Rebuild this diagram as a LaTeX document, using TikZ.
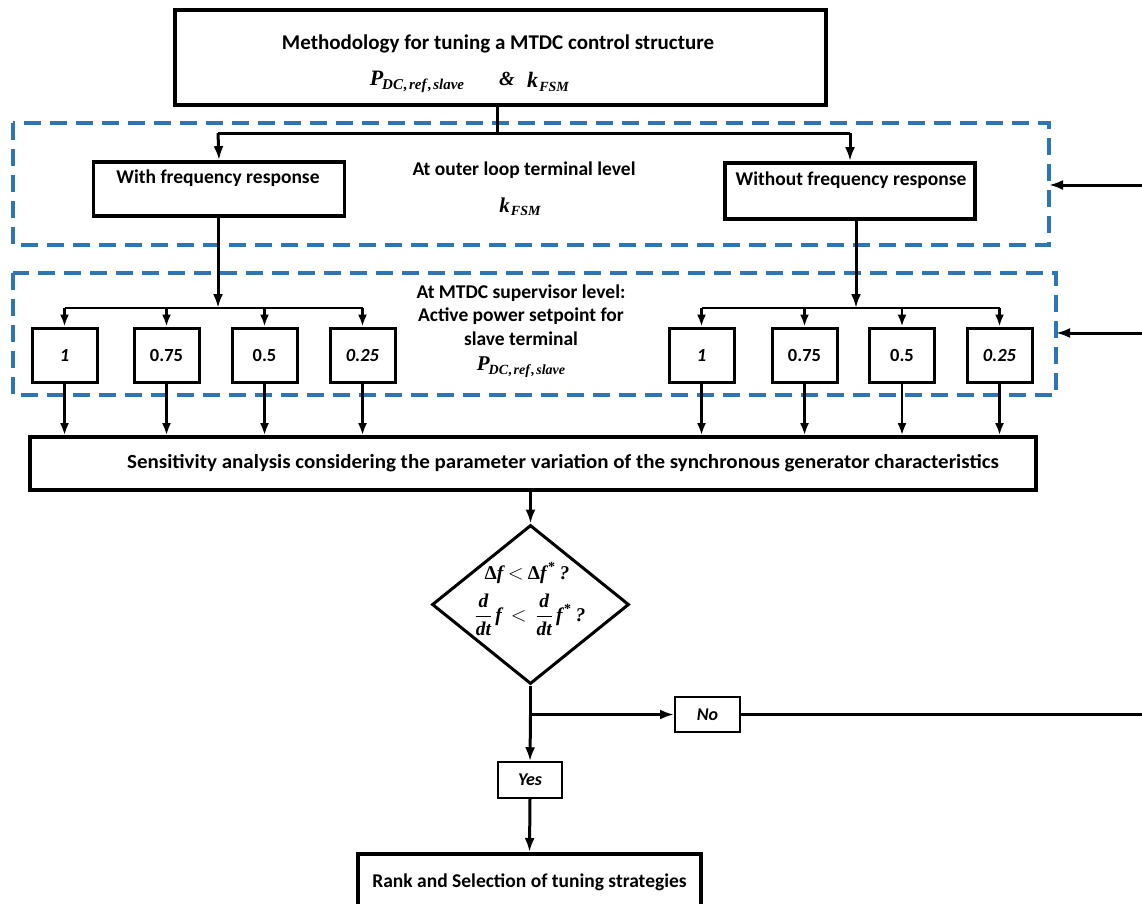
\documentclass[tikz,border=0pt]{standalone}
\usepackage{amsmath}
\usepackage{fontspec}
\setmainfont{Carlito}
\newfontfamily\tms{Liberation Serif}
\usetikzlibrary{arrows.meta,shapes.geometric}
\definecolor{dashblue}{HTML}{2E75B6}
\newcommand{\tbi}[1]{{\tms\bfseries\itshape #1}}
\newcommand{\dlt}{{\tms\bfseries\upshape Δ}}
\newcommand{\astr}{\kern0.08em\raisebox{0.85ex}{{\tms\bfseries\fontsize{14}{14}\selectfont *}}}
\newcommand{\pdc}[1]{{\tms\bfseries\itshape P\kern-0.05em\raisebox{-0.35ex}{\fontsize{#1}{#1}\selectfont DC\kern0.05em,\kern0.1em ref\kern0.1em,\kern0.1em slave}}}
\newcommand{\kfsm}[1]{{\tms\bfseries\itshape k\kern0.05em\raisebox{-0.35ex}{\fontsize{#1}{#1}\selectfont FSM}}}
\begin{document}
\begin{tikzpicture}[x=1pt,y=-1pt,
  box/.style={draw,line width=3.8pt,inner sep=0pt,font=\bfseries},
  numbox/.style={draw,line width=3pt,inner sep=0pt,minimum width=65pt,minimum height=54pt,font=\bfseries\fontsize{18.5}{22}\selectfont},
  thinbox/.style={draw,line width=1.5pt,inner sep=0pt,font=\bfseries\itshape\fontsize{18}{22}\selectfont},
  lbl/.style={inner sep=0pt,font=\bfseries\fontsize{19.5}{23.5}\selectfont},
  zone/.style={draw=dashblue,line width=3.2pt,dash pattern=on 17pt off 9pt},
  arr/.style={line width=3pt,-{Latex[length=14pt,width=10pt]}},
  sarr/.style={line width=2.3pt,-{Latex[length=12pt,width=9pt]}},
  ln/.style={line width=3pt}]
\useasboundingbox (0,0) rectangle (1142,903);
\clip (0,0) rectangle (1142,903);
\fill[white] (0,0) rectangle (1142,903);

% top box
\node[box,minimum width=651pt,minimum height=95pt] (top) at (500.5,57.5) {};
\node[inner sep=0pt,font=\bfseries\fontsize{21}{24}\selectfont] (title) at (498,44) {Methodology for tuning a MTDC control structure};
\node[inner sep=0pt,font=\fontsize{22}{24}\selectfont] (pmath) at (417,82) {\pdc{15}};
\node[inner sep=0pt,font=\fontsize{20}{22}\selectfont] (amp) at (507,79) {\tbi{\&}};
\node[inner sep=0pt,font=\fontsize{22}{24}\selectfont] (kmath) at (548,82) {\kfsm{14}};

% zone 1
\draw[zone] (13,123) rectangle (1049,245);
\coordinate (bus1) at (497,133);
\coordinate (b1l) at (218,133);
\coordinate (b1r) at (850,133);
\node[box,minimum width=251pt,minimum height=54pt] (with) at (219,189) {};
\node[lbl] (withtxt) at (218,178) {With frequency response};
\node[box,minimum width=250pt,minimum height=56pt] (without) at (850,191) {};
\node[lbl] (withouttxt) at (851,180) {Without frequency response};
\node[lbl] (outer) at (524,170) {At outer loop terminal level};
\node[inner sep=0pt,font=\fontsize{21}{24}\selectfont] (k2) at (520,207) {\kfsm{14}};
\draw[ln] (top.south -| bus1) -- (bus1);
\draw[ln] (b1l) -- (b1r);
\draw[arr] (b1l) -- (with.north);
\draw[arr] (b1r) -- (without.north);
\coordinate (fb1) at (1142,185);
\draw[arr] (fb1) -- (1049,185);

% zone 2
\draw[zone] (13,273) rectangle (1056,395);
\node[lbl,align=center] (sup) at (521,315) {At MTDC supervisor level:\\Active power setpoint for\\slave terminal};
\node[inner sep=0pt,font=\fontsize{21}{24}\selectfont] (p2) at (521,367) {\pdc{14}};

\node[numbox] (l1) at (64.5,355) {\itshape 1};
\node[numbox] (l2) at (166.5,355) {0.75};
\node[numbox] (l3) at (264.5,355) {0.5};
\node[numbox] (l4) at (362.5,355) {\itshape 0.25};
\node[numbox] (r1) at (701.5,355) {\itshape 1};
\node[numbox] (r2) at (804.5,355) {0.75};
\node[numbox] (r3) at (902,355) {0.5};
\node[numbox] (r4) at (999.5,355) {\itshape 0.25};

\coordinate (bus2l) at (218,308);
\coordinate (bus2r) at (856,308);
\draw[arr] (with.south -| bus2l) -- (bus2l);
\draw[arr] (without.south -| bus2r) -- (bus2r);
\draw[line width=2.3pt] (l1.north |- bus2l) -- (l4.north |- bus2l);
\draw[line width=2.3pt] (r1.north |- bus2r) -- (r4.north |- bus2r);
\foreach \n in {l1,l2,l3,l4,r1,r2,r3,r4}{
  \draw[sarr] (\n.north |- bus2l) -- (\n.north);
}
\coordinate (fb2) at (1142,333);
\draw[arr] (fb2) -- (1056,333);

% sensitivity
\node[box,minimum width=1006pt,minimum height=53pt] (sens) at (533,463.5) {};
\node[inner sep=0pt,font=\bfseries\fontsize{20}{22}\selectfont] (senstxt) at (563,463) {\scalebox{1.05}[1]{Sensitivity analysis considering the parameter variation of the synchronous generator characteristics}};
\foreach \n in {l1,l2,l3,l4,r1,r2,r3,r4}{
  \draw[sarr] (\n.south) -- (\n.south |- sens.north);
}

% decision
\node[draw,diamond,line width=3pt,inner sep=0pt,minimum width=197pt,minimum height=159pt,shape aspect=1.24] (dec) at (530.5,604.5) {};
\node[inner sep=0pt,font=\fontsize{19.5}{22}\selectfont] (c1) at (527,573) {\dlt\tbi{f}\ $<$\ \dlt\tbi{f}\astr\ \tbi{?}};
\node[inner sep=0pt,font=\fontsize{19.5}{22}\selectfont] (c2) at (530,615) {$\dfrac{\text{\tbi{d}}}{\text{\tbi{dt}}}$\,\tbi{f}\ \ $<$\ \ $\dfrac{\text{\tbi{d}}}{\text{\tbi{dt}}}$\,\tbi{f}\astr\ \tbi{?}};
\draw[arr] (sens.south -| dec.north) -- (dec.north);

\node[thinbox,minimum width=65pt,minimum height=35pt,line width=2pt] (no) at (707.5,714.5) {No};
\node[thinbox,minimum width=64pt,minimum height=36pt] (yes) at (530,780) {Yes};
\coordinate (split) at (530.5,714.5);
\draw[ln] (dec.south) -- (split);
\draw[arr] (split) -- (yes.north);
\draw[arr] (split) -- (no.west);
\coordinate (fbno) at (1142,714.5);
\draw[ln] (no.east) -- (fbno);

\node[box,minimum width=343pt,minimum height=70pt,anchor=north] (rank) at (529.5,852) {};
\node[lbl] (ranktxt) at (529.5,882) {Rank and Selection of tuning strategies};
\draw[arr] (yes.south) -- (rank.north);
\end{tikzpicture}
\end{document}
